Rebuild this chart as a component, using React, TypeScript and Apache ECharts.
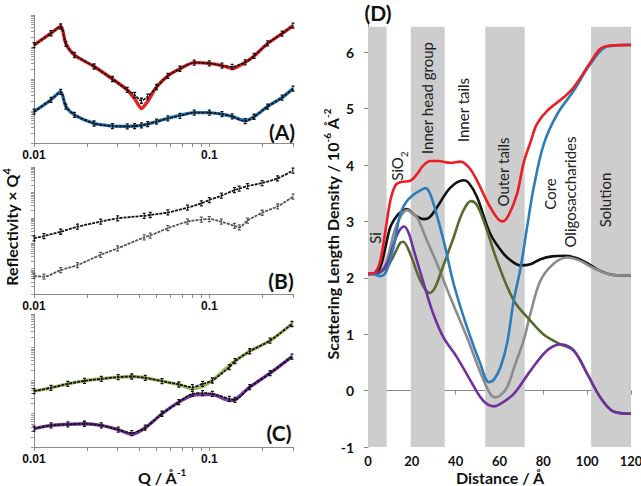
import React, { useEffect, useRef } from 'react';
import * as echarts from 'echarts';

// ---------- Panel A (R x Q^4 vs Q) ----------
const qA = [0.010, 0.0125, 0.0142, 0.0152, 0.017, 0.022, 0.028, 0.034, 0.0375, 0.041, 0.0445, 0.05, 0.058, 0.068, 0.082, 0.1, 0.118, 0.135, 0.16, 0.18, 0.215, 0.26, 0.3];
const aRedFit = [1.15e-7, 2.69e-7, 4.37e-7, 1.26e-7, 5.62e-8, 2.46e-8, 1.00e-8, 4.57e-9, 2.40e-9, 1.20e-9, 2.00e-9, 5.62e-9, 1.26e-8, 2.09e-8, 3.24e-8, 3.09e-8, 2.63e-8, 2.14e-8, 3.31e-8, 5.25e-8, 1.29e-7, 2.63e-7, 4.68e-7];
const aRedData = [1.15e-7, 2.69e-7, 4.37e-7, 1.26e-7, 5.62e-8, 2.46e-8, 1.00e-8, 4.57e-9, 3.16e-9, 2.09e-9, 2.82e-9, 5.62e-9, 1.26e-8, 2.09e-8, 3.24e-8, 3.09e-8, 2.63e-8, 2.40e-8, 3.31e-8, 5.25e-8, 1.29e-7, 2.63e-7, 4.68e-7];
const aBlueFit = [9.55e-10, 2.24e-9, 3.98e-9, 1.38e-9, 7.59e-10, 4.07e-10, 3.39e-10, 3.31e-10, 3.39e-10, 3.55e-10, 3.89e-10, 4.68e-10, 5.89e-10, 7.41e-10, 8.91e-10, 8.91e-10, 7.94e-10, 6.76e-10, 5.01e-10, 6.61e-10, 1.38e-9, 2.63e-9, 5.01e-9];
const aBlueData = [9.55e-10, 2.24e-9, 3.98e-9, 1.38e-9, 7.59e-10, 4.07e-10, 3.39e-10, 3.31e-10, 3.39e-10, 3.55e-10, 3.89e-10, 4.68e-10, 5.89e-10, 7.08e-10, 8.91e-10, 8.91e-10, 7.94e-10, 6.76e-10, 4.79e-10, 6.61e-10, 1.38e-9, 2.63e-9, 5.01e-9];

// ---------- Panel B ----------
const qB = [0.010, 0.0114, 0.0142, 0.0177, 0.024, 0.030, 0.0425, 0.046, 0.058, 0.075, 0.09, 0.1, 0.117, 0.139, 0.148, 0.165, 0.2, 0.245, 0.3];
const bUpper = [1.55e-8, 1.91e-8, 2.82e-8, 4.47e-8, 7.08e-8, 9.55e-8, 1.20e-7, 1.29e-7, 1.62e-7, 2.51e-7, 3.72e-7, 5.01e-7, 7.41e-7, 1.23e-6, 1.41e-6, 1.78e-6, 2.34e-6, 3.55e-6, 7.24e-6];
const bLower = [5.13e-10, 4.79e-10, 8.71e-10, 1.38e-9, 3.47e-9, 6.31e-9, 1.70e-8, 2.00e-8, 3.89e-8, 7.08e-8, 8.51e-8, 8.91e-8, 7.08e-8, 4.79e-8, 4.17e-8, 7.76e-8, 1.58e-7, 2.82e-7, 6.76e-7];

// ---------- Panel C ----------
const qC = [0.010, 0.0125, 0.0156, 0.0194, 0.0242, 0.0302, 0.0361, 0.0431, 0.0537, 0.067, 0.08, 0.0915, 0.104, 0.13, 0.14, 0.17, 0.222, 0.296];
const cGreenFit = [4.79e-9, 6.03e-9, 7.94e-9, 9.77e-9, 1.12e-8, 1.26e-8, 1.32e-8, 1.20e-8, 9.55e-9, 7.59e-9, 5.62e-9, 6.61e-9, 1.00e-8, 2.82e-8, 3.80e-8, 7.59e-8, 1.58e-7, 5.01e-7];
const cGreenData = [4.79e-9, 6.03e-9, 7.94e-9, 9.77e-9, 1.12e-8, 1.26e-8, 1.32e-8, 1.20e-8, 9.55e-9, 7.59e-9, 6.31e-9, 7.94e-9, 1.00e-8, 2.51e-8, 3.80e-8, 7.59e-8, 1.58e-7, 5.01e-7];
const cPurpleFit = [3.55e-10, 4.47e-10, 4.79e-10, 5.01e-10, 4.47e-10, 3.31e-10, 2.40e-10, 3.80e-10, 1.00e-9, 2.24e-9, 3.55e-9, 3.80e-9, 3.80e-9, 2.51e-9, 2.63e-9, 6.31e-9, 1.66e-8, 5.25e-8];
const cPurpleData = [3.55e-10, 4.47e-10, 4.79e-10, 5.01e-10, 4.47e-10, 3.31e-10, 2.63e-10, 3.80e-10, 1.00e-9, 2.24e-9, 3.98e-9, 4.17e-9, 3.98e-9, 2.82e-9, 2.63e-9, 6.31e-9, 1.66e-8, 5.25e-8];

// ---------- Panel D (SLD profiles: [distance, SLD]) ----------
const dRed = [[0, 2.07], [3, 2.09], [5.6, 2.3], [8, 2.85], [10.2, 3.37], [12.5, 3.64], [15, 3.70], [19.3, 3.72], [22.4, 3.84], [25, 3.98], [28.4, 4.07], [32, 4.07], [37.6, 4.04], [42.1, 4.06], [46, 3.96], [49.8, 3.72], [55.8, 3.25], [61.2, 3.0], [64, 3.1], [68, 3.49], [71.1, 4.05], [74.1, 4.4], [77, 4.72], [81.7, 4.96], [89.3, 5.2], [93.9, 5.38], [101.5, 5.82], [106, 6.06], [110.6, 6.12], [120, 6.13]];
const dBlue = [[0, 2.07], [3, 2.06], [5.5, 2.03], [7.5, 2.06], [9, 2.18], [11.7, 2.55], [14.7, 3.13], [17.5, 3.35], [21, 3.48], [23.9, 3.55], [26.2, 3.59], [28, 3.52], [29.9, 3.31], [34.5, 2.66], [39.1, 1.89], [45.2, 1.12], [51.3, 0.47], [55.1, 0.15], [57.5, 0.2], [60.4, 0.41], [63.5, 0.85], [66.5, 1.6], [69.5, 2.15], [72.6, 2.9], [75.6, 3.6], [80.2, 4.37], [86.3, 4.9], [93.9, 5.32], [101.5, 5.79], [109.1, 6.1], [120, 6.13]];
const dBlack = [[0, 2.07], [3, 2.08], [5.6, 2.19], [8, 2.55], [10.2, 2.9], [13.2, 3.1], [15.5, 3.18], [17.8, 3.22], [21, 3.12], [25.4, 3.04], [28, 3.07], [31.5, 3.25], [37.6, 3.6], [43.7, 3.73], [46, 3.68], [49.8, 3.43], [55.8, 2.78], [62, 2.42], [66.5, 2.27], [69.5, 2.22], [74.1, 2.24], [78.7, 2.33], [84, 2.38], [90, 2.39], [95, 2.35], [100, 2.26], [105, 2.14], [112, 2.05], [120, 2.04]];
const dGray = [[0, 2.07], [4, 2.07], [7, 2.15], [9, 2.35], [11.7, 2.78], [14, 3.02], [16, 3.15], [17.8, 3.2], [20, 3.15], [22.4, 3.07], [26.9, 2.66], [31.5, 2.25], [37.6, 1.65], [45.2, 0.94], [51.3, 0.32], [55.8, -0.06], [58.1, -0.12], [60.5, -0.08], [63.5, 0.06], [67, 0.45], [71.1, 0.9], [74, 1.35], [78.7, 1.95], [84.7, 2.25], [90.9, 2.36], [96.9, 2.3], [103, 2.17], [112, 2.05], [120, 2.04]];
const dOlive = [[0, 2.07], [4, 2.08], [8.7, 2.19], [11.7, 2.39], [14.7, 2.62], [16, 2.64], [19.3, 2.42], [23.9, 1.95], [28.1, 1.73], [30.5, 1.82], [33, 2.07], [39.1, 2.72], [43, 3.15], [47, 3.36], [49.5, 3.3], [52.8, 3.01], [58.9, 2.3], [66.5, 1.6], [74.1, 1.24], [80, 1.0], [84, 0.9], [87.8, 0.82], [93.9, 0.71], [100, 0.3], [106, -0.12], [112, -0.37], [120, -0.41]];
const dPurple = [[0, 2.07], [4, 2.08], [8.7, 2.25], [11.7, 2.6], [14, 2.82], [16.5, 2.91], [18.5, 2.8], [20.8, 2.5], [25.4, 1.9], [29.9, 1.35], [34.5, 0.94], [40.6, 0.59], [46.7, 0.18], [51.3, -0.12], [54.3, -0.24], [57.5, -0.28], [61, -0.22], [66.5, -0.06], [74.1, 0.35], [81.7, 0.71], [87.8, 0.82], [93.9, 0.71], [100, 0.3], [106, -0.12], [112, -0.37], [120, -0.41]];

// Shaded layer regions [from, to] in Å
const bands = [[0, 8.5], [19.5, 35], [53.5, 71.5], [101.8, 120]];
const layerLabels = [
  { text: 'Si', x: 375, y: 238 },
  { text: 'Inner head group', x: 427, y: 98 },
  { text: 'Inner tails', x: 463, y: 110 },
  { text: 'Outer tails', x: 503, y: 172 },
  { text: 'Core', x: 550, y: 194 },
  { text: 'Oligosaccharides', x: 570, y: 192 },
  { text: 'Solution', x: 605, y: 200 },
];

const qTickLabels = [0.01, 0.1];
const dXTicks = [0, 20, 40, 60, 80, 100, 120];
const dYTicks = [-1, 0, 1, 2, 3, 4, 5, 6];

const FONT = 'Lato, "Open Sans", sans-serif';

function logTicks(lo: number, hi: number) {
  const out: number[] = [];
  for (let e = lo; e <= hi; e++) {
    for (let m = 1; m <= 9; m++) {
      out.push(Number((m * Math.pow(10, e)).toPrecision(3)));
    }
  }
  return out;
}

export default function App() {
  const ref = useRef<HTMLDivElement>(null);
  useEffect(() => {
    if (!ref.current) return;
    const chart = echarts.init(ref.current, undefined, { renderer: 'svg' });

    const grids = [
      { left: 34, top: 15, width: 259, height: 128 },
      { left: 34, top: 167, width: 259, height: 127 },
      { left: 34, top: 314, width: 259, height: 133 },
      { left: 368, top: 24, right: 10, bottom: 39 },
    ].map((g) => ({ ...g, containLabel: false, outerBoundsMode: 'none' }));

    const xTickVals = [0.01, 0.02, 0.03, 0.04, 0.05, 0.06, 0.07, 0.08, 0.09, 0.1, 0.2, 0.3];
    const leftX = [0, 1, 2].map((i) => ({
      type: 'log',
      gridIndex: i,
      min: 0.01,
      max: 0.3,
      axisLine: { show: true, lineStyle: { color: '#8a8a8a', width: 1 } },
      axisTick: { show: true, customValues: xTickVals, length: 4, lineStyle: { color: '#8a8a8a' } },
      axisLabel: {
        customValues: qTickLabels,
        formatter: (v: number) => (v < 0.05 ? '0.01' : '0.1'),
        fontFamily: '"Liberation Sans", Arial, sans-serif',
        fontWeight: 'bold',
        fontSize: 12,
        color: '#111',
        margin: 6,
      },
      splitLine: { show: false },
    }));
    const yRanges = [[-10, -6], [-10, -5], [-10, -6]];
    const leftY = [0, 1, 2].map((i) => ({
      type: 'log',
      gridIndex: i,
      min: Math.pow(10, yRanges[i][0]),
      max: Math.pow(10, yRanges[i][1]),
      axisLine: { show: true, lineStyle: { color: '#8a8a8a', width: 1 } },
      axisTick: {
        show: true,
        customValues: logTicks(yRanges[i][0], yRanges[i][1] - 1).concat([Math.pow(10, yRanges[i][1])]),
        length: 3,
        lineStyle: { color: '#9a9a9a' },
      },
      axisLabel: { show: false },
      splitLine: { show: false },
    }));

    const errSym = 'path://M0,0H4M2,0V10M0,10H4';
    const fit = (name: string, q: number[], v: number[], color: string, idx: number) => ({
      name,
      type: 'line',
      xAxisIndex: idx,
      yAxisIndex: idx,
      data: q.map((x, i) => [x, v[i]]),
      showSymbol: false,
      smooth: 0.25,
      lineStyle: { color, width: 3.4 },
      z: 2,
    });
    const dat = (name: string, q: number[], v: number[], color: string, idx: number) => ({
      name,
      type: 'line',
      xAxisIndex: idx,
      yAxisIndex: idx,
      data: q.map((x, i) => [x, v[i]]),
      symbol: errSym,
      symbolSize: [3, 5],
      showAllSymbol: true,
      smooth: 0.25,
      lineStyle: { color, width: 1.8, type: [3, 1] },
      itemStyle: { color: 'rgba(0,0,0,0)', borderColor: color, borderWidth: 1 },
      z: 3,
    });
    const prof = (name: string, d: number[][], color: string) => ({
      name,
      type: 'line',
      xAxisIndex: 3,
      yAxisIndex: 3,
      data: d,
      showSymbol: false,
      smooth: 0.35,
      lineStyle: { color, width: 2.6 },
      z: 3,
    });

    const sup = (size: number) => ({ fontSize: size, fontWeight: 'bold', fontFamily: FONT, fill: '#111', lineHeight: 18, verticalAlign: 'top' });
    const main = (size: number) => ({ fontSize: size, fontWeight: 'bold', fontFamily: FONT, fill: '#111', lineHeight: 18, verticalAlign: 'bottom' });

    const option: any = {
      animation: false,
      backgroundColor: '#fff',
      grid: grids,
      xAxis: [
        ...leftX,
        {
          type: 'value',
          gridIndex: 3,
          min: 0,
          max: 120,
          interval: 20,
          axisLine: { show: true, lineStyle: { color: '#8a8a8a', width: 1 } },
          axisTick: { show: true, length: 4, lineStyle: { color: '#8a8a8a' }, customValues: dXTicks },
          axisLabel: { customValues: dXTicks, fontFamily: FONT, fontWeight: 'bold', fontSize: 13, color: '#111', margin: 7 },
          splitLine: { show: false },
        },
      ],
      yAxis: [
        ...leftY,
        {
          type: 'value',
          gridIndex: 3,
          min: -1,
          max: 6.5,
          axisLine: { show: true, lineStyle: { color: '#8a8a8a', width: 1 } },
          axisTick: { show: true, length: 4, lineStyle: { color: '#8a8a8a' }, customValues: dYTicks },
          axisLabel: { customValues: dYTicks, fontFamily: FONT, fontWeight: 'bold', fontSize: 14, color: '#111', margin: 14 },
          splitLine: { show: false },
        },
      ],
      series: [
        fit('A red fit', qA, aRedFit, '#ee1c24', 0),
        dat('A red data', qA, aRedData, '#111', 0),
        fit('A blue fit', qA, aBlueFit, '#2b7fc1', 0),
        dat('A blue data', qA, aBlueData, '#111', 0),
        dat('B upper', qB, bUpper, '#111', 1),
        dat('B lower', qB, bLower, '#555', 1),
        fit('C green fit', qC, cGreenFit, '#9bbb59', 2),
        dat('C green data', qC, cGreenData, '#111', 2),
        fit('C purple fit', qC, cPurpleFit, '#7a3aaa', 2),
        dat('C purple data', qC, cPurpleData, '#111', 2),
        {
          name: 'bands',
          type: 'custom',
          xAxisIndex: 3,
          yAxisIndex: 3,
          data: bands,
          z: 1,
          silent: true,
          renderItem: (params: any, api: any) => {
            const p0 = api.coord([api.value(0), 6.45]);
            const p1 = api.coord([api.value(1), -1]);
            return {
              type: 'rect',
              shape: { x: p0[0], y: p0[1], width: p1[0] - p0[0], height: p1[1] - p0[1] },
              style: { fill: '#cdcdcd' },
            };
          },
        },
        prof('D black', dBlack, '#111111'),
        prof('D gray', dGray, '#8c8c8c'),
        prof('D olive', dOlive, '#556b2f'),
        prof('D purple', dPurple, '#7030a0'),
        prof('D blue', dBlue, '#2e7dba'),
        prof('D red', dRed, '#ee1c24'),
      ],
      graphic: [
        ...layerLabels.map((l) => ({
          type: 'text',
          x: l.x,
          y: l.y,
          rotation: Math.PI / 2,
          z: 10,
          style: { text: l.text, fontFamily: FONT, fontSize: 15, fill: '#222', align: 'center', verticalAlign: 'middle' },
        })),
        {
          type: 'text',
          x: 399,
          y: 166,
          rotation: Math.PI / 2,
          z: 10,
          style: {
            text: '{a|SiO}{b|2}',
            align: 'center',
            verticalAlign: 'middle',
            rich: {
              a: { fontFamily: FONT, fontSize: 15, fill: '#222', lineHeight: 20, verticalAlign: 'top' },
              b: { fontFamily: FONT, fontSize: 10, fill: '#222', lineHeight: 20, verticalAlign: 'bottom' },
            },
          },
        },
        {
          type: 'text',
          x: 10,
          y: 227,
          rotation: Math.PI / 2,
          style: { text: '{a|Reflectivity × Q}{s|4}', align: 'center', verticalAlign: 'middle', rich: { a: main(16), s: sup(11) } },
        },
        {
          type: 'text',
          x: 331,
          y: 234,
          rotation: Math.PI / 2,
          style: {
            text: '{a|Scattering Length Density / 10}{s|-6}{a| Å}{s|-2}',
            align: 'center',
            verticalAlign: 'middle',
            rich: { a: main(16), s: sup(10) },
          },
        },
        {
          type: 'text',
          x: 162,
          y: 476,
          style: { text: '{a|Q / Å}{s|-1}', align: 'center', verticalAlign: 'middle', rich: { a: main(16), s: sup(10) } },
        },
        {
          type: 'text',
          x: 500,
          y: 477,
          style: { text: 'Distance / Å', fontFamily: FONT, fontWeight: 'bold', fontSize: 16, fill: '#111', align: 'center', verticalAlign: 'middle' },
        },
        ...[
          { t: '(A)', x: 282, y: 131 },
          { t: '(B)', x: 281, y: 280 },
          { t: '(C)', x: 279, y: 432 },
          { t: '(D)', x: 378, y: 12 },
        ].map((p) => ({
          type: 'text',
          x: p.x,
          y: p.y,
          z: 10,
          style: { text: p.t, fontFamily: FONT, fontWeight: 'bold', fontSize: 21, fill: '#111', align: 'center', verticalAlign: 'middle' },
        })),
      ],
    };
    chart.setOption(option);
    return () => chart.dispose();
  }, []);
  return <div ref={ref} style={{ width: 641, height: 486, position: 'absolute', left: 0, top: 0 }} />;
}
